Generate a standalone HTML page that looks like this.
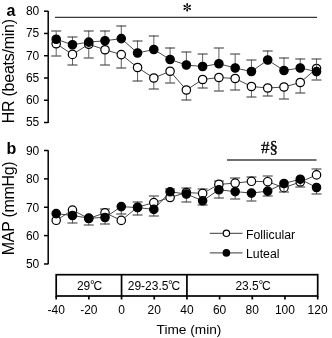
<!DOCTYPE html><html><head><meta charset="utf-8"><style>html,body{margin:0;padding:0;background:#fff;}svg{display:block;will-change:transform;}text{font-family:"Liberation Sans",sans-serif;}</style></head><body>
<svg width="332" height="338" viewBox="0 0 332 338">
<rect width="332" height="338" fill="#fff"/>
<g stroke="#000" stroke-width="1.5" fill="none">
<path d="M48.2 10.9V123.1"/>
<path d="M44 11.2H48.2"/>
<path d="M44 33.46H48.2"/>
<path d="M44 55.72H48.2"/>
<path d="M44 77.98H48.2"/>
<path d="M44 100.24H48.2"/>
<path d="M44 122.5H48.2"/>
<path d="M48.2 150.3V264.2"/>
<path d="M44 150.5H48.2"/>
<path d="M44 178.87H48.2"/>
<path d="M44 207.24H48.2"/>
<path d="M44 235.61H48.2"/>
<path d="M44 263.98H48.2"/>
</g>
<path d="M55 17.4H317" stroke="#3a3a3a" stroke-width="1.2"/>
<path d="M227 160H316.5" stroke="#707070" stroke-width="2"/>
<g font-size="12" text-anchor="end" fill="#000">
<text x="39.3" y="15.1">80</text>
<text x="39.3" y="37.36">75</text>
<text x="39.3" y="59.62">70</text>
<text x="39.3" y="81.88">65</text>
<text x="39.3" y="104.14">60</text>
<text x="39.3" y="126.4">55</text>
<text x="39.3" y="154.8">90</text>
<text x="39.3" y="183.17">80</text>
<text x="39.3" y="211.54">70</text>
<text x="39.3" y="239.91">60</text>
<text x="39.3" y="268.28">50</text>
</g>
<text x="6.5" y="15.5" font-size="16" font-weight="bold">a</text>
<text x="6.5" y="153.7" font-size="16" font-weight="bold">b</text>
<text transform="translate(14.2 123.3) rotate(-90)" font-size="16" letter-spacing="-0.25">HR (beats/min)</text>
<text transform="translate(14.2 255.2) rotate(-90)" font-size="16" letter-spacing="-0.3">MAP (mmHg)</text>
<path d="M187.2 7.4L187.2 4.5" stroke="#000" stroke-width="0.7"/><ellipse cx="187.2" cy="4.5" rx="1.4" ry="0.85" fill="#000" transform="rotate(-90 187.2 4.5)"/><path d="M187.2 7.4L189.71 5.95" stroke="#000" stroke-width="0.7"/><ellipse cx="189.71" cy="5.95" rx="1.4" ry="0.85" fill="#000" transform="rotate(-30 189.71 5.95)"/><path d="M187.2 7.4L184.69 5.95" stroke="#000" stroke-width="0.7"/><ellipse cx="184.69" cy="5.95" rx="1.4" ry="0.85" fill="#000" transform="rotate(-150 184.69 5.95)"/><path d="M187.2 7.4L184.69 8.85" stroke="#000" stroke-width="0.7"/><ellipse cx="184.69" cy="8.85" rx="1.4" ry="0.85" fill="#000" transform="rotate(-210 184.69 8.85)"/><path d="M187.2 7.4L187.2 10.3" stroke="#000" stroke-width="0.7"/><ellipse cx="187.2" cy="10.3" rx="1.4" ry="0.85" fill="#000" transform="rotate(-270 187.2 10.3)"/><path d="M187.2 7.4L189.71 8.85" stroke="#000" stroke-width="0.7"/><ellipse cx="189.71" cy="8.85" rx="1.4" ry="0.85" fill="#000" transform="rotate(-330 189.71 8.85)"/>
<text x="269.5" y="152.5" font-size="17" text-anchor="middle" stroke="#000" stroke-width="0.3" style="font-family:'Liberation Serif',serif">#§</text>
<polyline points="56.2,43.75 72.47,54.4 88.74,44.25 105.01,49.75 121.28,54.6 137.55,67.5 153.82,78 170.09,71.25 186.36,90 202.63,79.5 218.9,77.5 235.17,78.5 251.44,86.5 267.71,88 283.98,87 300.25,82.5 316.52,68.5" fill="none" stroke="#333" stroke-width="0.9"/>
<path d="M56.2 43.75V55.6" stroke="#444" stroke-width="0.85"/><path d="M51.2 56H61.2" stroke="#333" stroke-width="1"/>
<path d="M72.47 54.4V65" stroke="#444" stroke-width="0.85"/><path d="M67.47 65H77.47" stroke="#333" stroke-width="1"/>
<path d="M88.74 44.25V57.5" stroke="#444" stroke-width="0.85"/><path d="M83.74 58H93.74" stroke="#333" stroke-width="1"/>
<path d="M105.01 49.75V65" stroke="#444" stroke-width="0.85"/><path d="M100.01 65H110.01" stroke="#333" stroke-width="1"/>
<path d="M121.28 54.6V68" stroke="#444" stroke-width="0.85"/><path d="M116.28 68H126.28" stroke="#333" stroke-width="1"/>
<path d="M137.55 67.5V81.25" stroke="#444" stroke-width="0.85"/><path d="M132.55 81H142.55" stroke="#333" stroke-width="1"/>
<path d="M153.82 78V89" stroke="#444" stroke-width="0.85"/><path d="M148.82 89H158.82" stroke="#333" stroke-width="1"/>
<path d="M170.09 71.25V82.5" stroke="#444" stroke-width="0.85"/><path d="M165.09 83H175.09" stroke="#333" stroke-width="1"/>
<path d="M186.36 90V100.25" stroke="#444" stroke-width="0.85"/><path d="M181.36 100H191.36" stroke="#333" stroke-width="1"/>
<path d="M202.63 79.5V88.25" stroke="#444" stroke-width="0.85"/><path d="M197.63 88H207.63" stroke="#333" stroke-width="1"/>
<path d="M218.9 77.5V90.5" stroke="#444" stroke-width="0.85"/><path d="M213.9 91H223.9" stroke="#333" stroke-width="1"/>
<path d="M235.17 78.5V90" stroke="#444" stroke-width="0.85"/><path d="M230.17 90H240.17" stroke="#333" stroke-width="1"/>
<path d="M251.44 86.5V97" stroke="#444" stroke-width="0.85"/><path d="M246.44 97H256.44" stroke="#333" stroke-width="1"/>
<path d="M267.71 88V96" stroke="#444" stroke-width="0.85"/><path d="M262.71 96H272.71" stroke="#333" stroke-width="1"/>
<path d="M283.98 87V99" stroke="#444" stroke-width="0.85"/><path d="M278.98 99H288.98" stroke="#333" stroke-width="1"/>
<path d="M300.25 82.5V93" stroke="#444" stroke-width="0.85"/><path d="M295.25 93H305.25" stroke="#333" stroke-width="1"/>
<path d="M316.52 68.5V79.5" stroke="#444" stroke-width="0.85"/><path d="M311.52 80H321.52" stroke="#333" stroke-width="1"/>
<circle cx="56.2" cy="43.75" r="4.2" fill="#fff" stroke="#000" stroke-width="1.2"/>
<circle cx="72.47" cy="54.4" r="4.2" fill="#fff" stroke="#000" stroke-width="1.2"/>
<circle cx="88.74" cy="44.25" r="4.2" fill="#fff" stroke="#000" stroke-width="1.2"/>
<circle cx="105.01" cy="49.75" r="4.2" fill="#fff" stroke="#000" stroke-width="1.2"/>
<circle cx="121.28" cy="54.6" r="4.2" fill="#fff" stroke="#000" stroke-width="1.2"/>
<circle cx="137.55" cy="67.5" r="4.2" fill="#fff" stroke="#000" stroke-width="1.2"/>
<circle cx="153.82" cy="78" r="4.2" fill="#fff" stroke="#000" stroke-width="1.2"/>
<circle cx="170.09" cy="71.25" r="4.2" fill="#fff" stroke="#000" stroke-width="1.2"/>
<circle cx="186.36" cy="90" r="4.2" fill="#fff" stroke="#000" stroke-width="1.2"/>
<circle cx="202.63" cy="79.5" r="4.2" fill="#fff" stroke="#000" stroke-width="1.2"/>
<circle cx="218.9" cy="77.5" r="4.2" fill="#fff" stroke="#000" stroke-width="1.2"/>
<circle cx="235.17" cy="78.5" r="4.2" fill="#fff" stroke="#000" stroke-width="1.2"/>
<circle cx="251.44" cy="86.5" r="4.2" fill="#fff" stroke="#000" stroke-width="1.2"/>
<circle cx="267.71" cy="88" r="4.2" fill="#fff" stroke="#000" stroke-width="1.2"/>
<circle cx="283.98" cy="87" r="4.2" fill="#fff" stroke="#000" stroke-width="1.2"/>
<circle cx="300.25" cy="82.5" r="4.2" fill="#fff" stroke="#000" stroke-width="1.2"/>
<circle cx="316.52" cy="68.5" r="4.2" fill="#fff" stroke="#000" stroke-width="1.2"/>
<polyline points="56.2,39.25 72.47,44.75 88.74,42.1 105.01,40.75 121.28,38.6 137.55,53 153.82,49.5 170.09,59.5 186.36,65 202.63,66.5 218.9,63.75 235.17,68 251.44,71.5 267.71,60 283.98,70.5 300.25,68 316.52,71.6" fill="none" stroke="#333" stroke-width="0.9"/>
<path d="M56.2 39.25V31.4" stroke="#444" stroke-width="0.85"/><path d="M51.2 31H61.2" stroke="#333" stroke-width="1"/>
<path d="M72.47 44.75V36.75" stroke="#444" stroke-width="0.85"/><path d="M67.47 37H77.47" stroke="#333" stroke-width="1"/>
<path d="M88.74 42.1V30.75" stroke="#444" stroke-width="0.85"/><path d="M83.74 31H93.74" stroke="#333" stroke-width="1"/>
<path d="M105.01 40.75V30.5" stroke="#444" stroke-width="0.85"/><path d="M100.01 31H110.01" stroke="#333" stroke-width="1"/>
<path d="M121.28 38.6V25.5" stroke="#444" stroke-width="0.85"/><path d="M116.28 26H126.28" stroke="#333" stroke-width="1"/>
<path d="M137.55 53V40.5" stroke="#444" stroke-width="0.85"/><path d="M132.55 41H142.55" stroke="#333" stroke-width="1"/>
<path d="M153.82 49.5V35.5" stroke="#444" stroke-width="0.85"/><path d="M148.82 36H158.82" stroke="#333" stroke-width="1"/>
<path d="M170.09 59.5V47.5" stroke="#444" stroke-width="0.85"/><path d="M165.09 48H175.09" stroke="#333" stroke-width="1"/>
<path d="M186.36 65V51.75" stroke="#444" stroke-width="0.85"/><path d="M181.36 52H191.36" stroke="#333" stroke-width="1"/>
<path d="M202.63 66.5V53.75" stroke="#444" stroke-width="0.85"/><path d="M197.63 54H207.63" stroke="#333" stroke-width="1"/>
<path d="M218.9 63.75V48.25" stroke="#444" stroke-width="0.85"/><path d="M213.9 48H223.9" stroke="#333" stroke-width="1"/>
<path d="M235.17 68V54.25" stroke="#444" stroke-width="0.85"/><path d="M230.17 54H240.17" stroke="#333" stroke-width="1"/>
<path d="M251.44 71.5V60" stroke="#444" stroke-width="0.85"/><path d="M246.44 60H256.44" stroke="#333" stroke-width="1"/>
<path d="M267.71 60V50.5" stroke="#444" stroke-width="0.85"/><path d="M262.71 51H272.71" stroke="#333" stroke-width="1"/>
<path d="M283.98 70.5V57.5" stroke="#444" stroke-width="0.85"/><path d="M278.98 58H288.98" stroke="#333" stroke-width="1"/>
<path d="M300.25 68V58.5" stroke="#444" stroke-width="0.85"/><path d="M295.25 59H305.25" stroke="#333" stroke-width="1"/>
<path d="M316.52 71.6V58.8" stroke="#444" stroke-width="0.85"/><path d="M311.52 59H321.52" stroke="#333" stroke-width="1"/>
<circle cx="56.2" cy="39.25" r="4.2" fill="#000" stroke="#000" stroke-width="1.2"/>
<circle cx="72.47" cy="44.75" r="4.2" fill="#000" stroke="#000" stroke-width="1.2"/>
<circle cx="88.74" cy="42.1" r="4.2" fill="#000" stroke="#000" stroke-width="1.2"/>
<circle cx="105.01" cy="40.75" r="4.2" fill="#000" stroke="#000" stroke-width="1.2"/>
<circle cx="121.28" cy="38.6" r="4.2" fill="#000" stroke="#000" stroke-width="1.2"/>
<circle cx="137.55" cy="53" r="4.2" fill="#000" stroke="#000" stroke-width="1.2"/>
<circle cx="153.82" cy="49.5" r="4.2" fill="#000" stroke="#000" stroke-width="1.2"/>
<circle cx="170.09" cy="59.5" r="4.2" fill="#000" stroke="#000" stroke-width="1.2"/>
<circle cx="186.36" cy="65" r="4.2" fill="#000" stroke="#000" stroke-width="1.2"/>
<circle cx="202.63" cy="66.5" r="4.2" fill="#000" stroke="#000" stroke-width="1.2"/>
<circle cx="218.9" cy="63.75" r="4.2" fill="#000" stroke="#000" stroke-width="1.2"/>
<circle cx="235.17" cy="68" r="4.2" fill="#000" stroke="#000" stroke-width="1.2"/>
<circle cx="251.44" cy="71.5" r="4.2" fill="#000" stroke="#000" stroke-width="1.2"/>
<circle cx="267.71" cy="60" r="4.2" fill="#000" stroke="#000" stroke-width="1.2"/>
<circle cx="283.98" cy="70.5" r="4.2" fill="#000" stroke="#000" stroke-width="1.2"/>
<circle cx="300.25" cy="68" r="4.2" fill="#000" stroke="#000" stroke-width="1.2"/>
<circle cx="316.52" cy="71.6" r="4.2" fill="#000" stroke="#000" stroke-width="1.2"/>
<polyline points="56.2,220.3 72.47,210.1 88.74,218.5 105.01,212.8 121.28,220.4 137.55,207.2 153.82,202.6 170.09,197.5 186.36,192.5 202.63,193.4 218.9,184.4 235.17,183.1 251.44,181.3 267.71,181.7 283.98,187.7 300.25,182 316.52,174.9" fill="none" stroke="#333" stroke-width="0.9"/>
<path d="M105.01 212.8V209.2" stroke="#444" stroke-width="0.85"/><path d="M100.01 209H110.01" stroke="#333" stroke-width="1"/>
<path d="M137.55 207.2V201.5" stroke="#444" stroke-width="0.85"/><path d="M132.55 202H142.55" stroke="#333" stroke-width="1"/>
<path d="M153.82 202.6V196.1" stroke="#444" stroke-width="0.85"/><path d="M148.82 196H158.82" stroke="#333" stroke-width="1"/>
<path d="M170.09 197.5V188.5" stroke="#444" stroke-width="0.85"/><path d="M165.09 189H175.09" stroke="#333" stroke-width="1"/>
<path d="M186.36 192.5V188" stroke="#444" stroke-width="0.85"/><path d="M181.36 188H191.36" stroke="#333" stroke-width="1"/>
<path d="M202.63 193.4V189.1" stroke="#444" stroke-width="0.85"/><path d="M197.63 189H207.63" stroke="#333" stroke-width="1"/>
<path d="M218.9 184.4V180.8" stroke="#444" stroke-width="0.85"/><path d="M213.9 181H223.9" stroke="#333" stroke-width="1"/>
<path d="M235.17 183.1V178" stroke="#444" stroke-width="0.85"/><path d="M230.17 178H240.17" stroke="#333" stroke-width="1"/>
<path d="M251.44 181.3V176.6" stroke="#444" stroke-width="0.85"/><path d="M246.44 177H256.44" stroke="#333" stroke-width="1"/>
<path d="M267.71 181.7V175.9" stroke="#444" stroke-width="0.85"/><path d="M262.71 176H272.71" stroke="#333" stroke-width="1"/>
<path d="M316.52 174.9V168.6" stroke="#444" stroke-width="0.85"/><path d="M311.52 169H321.52" stroke="#333" stroke-width="1"/>
<circle cx="56.2" cy="220.3" r="4.2" fill="#fff" stroke="#000" stroke-width="1.2"/>
<circle cx="72.47" cy="210.1" r="4.2" fill="#fff" stroke="#000" stroke-width="1.2"/>
<circle cx="88.74" cy="218.5" r="4.2" fill="#fff" stroke="#000" stroke-width="1.2"/>
<circle cx="105.01" cy="212.8" r="4.2" fill="#fff" stroke="#000" stroke-width="1.2"/>
<circle cx="121.28" cy="220.4" r="4.2" fill="#fff" stroke="#000" stroke-width="1.2"/>
<circle cx="137.55" cy="207.2" r="4.2" fill="#fff" stroke="#000" stroke-width="1.2"/>
<circle cx="153.82" cy="202.6" r="4.2" fill="#fff" stroke="#000" stroke-width="1.2"/>
<circle cx="170.09" cy="197.5" r="4.2" fill="#fff" stroke="#000" stroke-width="1.2"/>
<circle cx="186.36" cy="192.5" r="4.2" fill="#fff" stroke="#000" stroke-width="1.2"/>
<circle cx="202.63" cy="193.4" r="4.2" fill="#fff" stroke="#000" stroke-width="1.2"/>
<circle cx="218.9" cy="184.4" r="4.2" fill="#fff" stroke="#000" stroke-width="1.2"/>
<circle cx="235.17" cy="183.1" r="4.2" fill="#fff" stroke="#000" stroke-width="1.2"/>
<circle cx="251.44" cy="181.3" r="4.2" fill="#fff" stroke="#000" stroke-width="1.2"/>
<circle cx="267.71" cy="181.7" r="4.2" fill="#fff" stroke="#000" stroke-width="1.2"/>
<circle cx="283.98" cy="187.7" r="4.2" fill="#fff" stroke="#000" stroke-width="1.2"/>
<circle cx="300.25" cy="182" r="4.2" fill="#fff" stroke="#000" stroke-width="1.2"/>
<circle cx="316.52" cy="174.9" r="4.2" fill="#fff" stroke="#000" stroke-width="1.2"/>
<polyline points="56.2,213.6 72.47,215.5 88.74,218.1 105.01,217.5 121.28,206.6 137.55,207.6 153.82,209.4 170.09,191.8 186.36,194 202.63,200.8 218.9,189.8 235.17,191.6 251.44,193.1 267.71,191.1 283.98,183.5 300.25,179.2 316.52,187.5" fill="none" stroke="#333" stroke-width="0.9"/>
<path d="M72.47 215.5V223.3" stroke="#444" stroke-width="0.85"/><path d="M67.47 223H77.47" stroke="#333" stroke-width="1"/>
<path d="M88.74 218.1V225.3" stroke="#444" stroke-width="0.85"/><path d="M83.74 225H93.74" stroke="#333" stroke-width="1"/>
<path d="M105.01 217.5V224.4" stroke="#444" stroke-width="0.85"/><path d="M100.01 224H110.01" stroke="#333" stroke-width="1"/>
<path d="M121.28 206.6V214.4" stroke="#444" stroke-width="0.85"/><path d="M116.28 214H126.28" stroke="#333" stroke-width="1"/>
<path d="M137.55 207.6V215.3" stroke="#444" stroke-width="0.85"/><path d="M132.55 215H142.55" stroke="#333" stroke-width="1"/>
<path d="M153.82 209.4V216.1" stroke="#444" stroke-width="0.85"/><path d="M148.82 216H158.82" stroke="#333" stroke-width="1"/>
<path d="M186.36 194V202.2" stroke="#444" stroke-width="0.85"/><path d="M181.36 202H191.36" stroke="#333" stroke-width="1"/>
<path d="M202.63 200.8V205.3" stroke="#444" stroke-width="0.85"/><path d="M197.63 205H207.63" stroke="#333" stroke-width="1"/>
<path d="M218.9 189.8V198.3" stroke="#444" stroke-width="0.85"/><path d="M213.9 198H223.9" stroke="#333" stroke-width="1"/>
<path d="M235.17 191.6V198.9" stroke="#444" stroke-width="0.85"/><path d="M230.17 199H240.17" stroke="#333" stroke-width="1"/>
<path d="M251.44 193.1V200.7" stroke="#444" stroke-width="0.85"/><path d="M246.44 201H256.44" stroke="#333" stroke-width="1"/>
<path d="M267.71 191.1V196.2" stroke="#444" stroke-width="0.85"/><path d="M262.71 196H272.71" stroke="#333" stroke-width="1"/>
<path d="M283.98 183.5V192" stroke="#444" stroke-width="0.85"/><path d="M278.98 192H288.98" stroke="#333" stroke-width="1"/>
<path d="M300.25 179.2V187.2" stroke="#444" stroke-width="0.85"/><path d="M295.25 187H305.25" stroke="#333" stroke-width="1"/>
<path d="M316.52 187.5V193.9" stroke="#444" stroke-width="0.85"/><path d="M311.52 194H321.52" stroke="#333" stroke-width="1"/>
<circle cx="56.2" cy="213.6" r="4.2" fill="#000" stroke="#000" stroke-width="1.2"/>
<circle cx="72.47" cy="215.5" r="4.2" fill="#000" stroke="#000" stroke-width="1.2"/>
<circle cx="88.74" cy="218.1" r="4.2" fill="#000" stroke="#000" stroke-width="1.2"/>
<circle cx="105.01" cy="217.5" r="4.2" fill="#000" stroke="#000" stroke-width="1.2"/>
<circle cx="121.28" cy="206.6" r="4.2" fill="#000" stroke="#000" stroke-width="1.2"/>
<circle cx="137.55" cy="207.6" r="4.2" fill="#000" stroke="#000" stroke-width="1.2"/>
<circle cx="153.82" cy="209.4" r="4.2" fill="#000" stroke="#000" stroke-width="1.2"/>
<circle cx="170.09" cy="191.8" r="4.2" fill="#000" stroke="#000" stroke-width="1.2"/>
<circle cx="186.36" cy="194" r="4.2" fill="#000" stroke="#000" stroke-width="1.2"/>
<circle cx="202.63" cy="200.8" r="4.2" fill="#000" stroke="#000" stroke-width="1.2"/>
<circle cx="218.9" cy="189.8" r="4.2" fill="#000" stroke="#000" stroke-width="1.2"/>
<circle cx="235.17" cy="191.6" r="4.2" fill="#000" stroke="#000" stroke-width="1.2"/>
<circle cx="251.44" cy="193.1" r="4.2" fill="#000" stroke="#000" stroke-width="1.2"/>
<circle cx="267.71" cy="191.1" r="4.2" fill="#000" stroke="#000" stroke-width="1.2"/>
<circle cx="283.98" cy="183.5" r="4.2" fill="#000" stroke="#000" stroke-width="1.2"/>
<circle cx="300.25" cy="179.2" r="4.2" fill="#000" stroke="#000" stroke-width="1.2"/>
<circle cx="316.52" cy="187.5" r="4.2" fill="#000" stroke="#000" stroke-width="1.2"/>
<path d="M209.8 233.3H242.5M209.8 252.9H242.5" stroke="#3a3a3a" stroke-width="1"/>
<circle cx="226.4" cy="233.3" r="3.2" fill="#fff" stroke="#000" stroke-width="1.2"/>
<circle cx="226.4" cy="252.9" r="3.2" fill="#000" stroke="#000" stroke-width="1.2"/>
<text x="246" y="239.1" font-size="12.3">Follicular</text>
<text x="246" y="258.1" font-size="12.3">Luteal</text>
<g stroke="#000" stroke-width="1.7" fill="none">
<rect x="56.2" y="274.7" width="261.5" height="21.3"/>
<path d="M121.56 274.7V299.5M186.92 274.7V299.5M56.2 296V299.5M317.7 296V299.5"/>
<path d="M88.88 296V299.5"/>
<path d="M154.24 296V299.5"/>
<path d="M219.6 296V299.5"/>
<path d="M252.28 296V299.5"/>
<path d="M284.96 296V299.5"/>
</g>
<g font-size="12" text-anchor="middle">
<text x="89.5" y="289.7">29<tspan dx="-0.3" dy="-0.9">°</tspan><tspan dx="-1.3" dy="0.9">C</tspan></text>
<text x="154" y="289.7">29-23.5<tspan dx="-0.3" dy="-0.9">°</tspan><tspan dx="-1.3" dy="0.9">C</tspan></text>
<text x="253" y="289.7">23.5<tspan dx="-0.3" dy="-0.9">°</tspan><tspan dx="-1.3" dy="0.9">C</tspan></text>
</g>
<g font-size="12" text-anchor="middle">
<text x="56.2" y="314">-40</text>
<text x="88.88" y="314">-20</text>
<text x="121.56" y="314">0</text>
<text x="154.24" y="314">20</text>
<text x="186.92" y="314">40</text>
<text x="219.6" y="314">60</text>
<text x="252.28" y="314">80</text>
<text x="284.96" y="314">100</text>
<text x="317.64" y="314">120</text>
</g>
<text x="189" y="333.8" font-size="13.7" text-anchor="middle">Time (min)</text>
</svg></body></html>
